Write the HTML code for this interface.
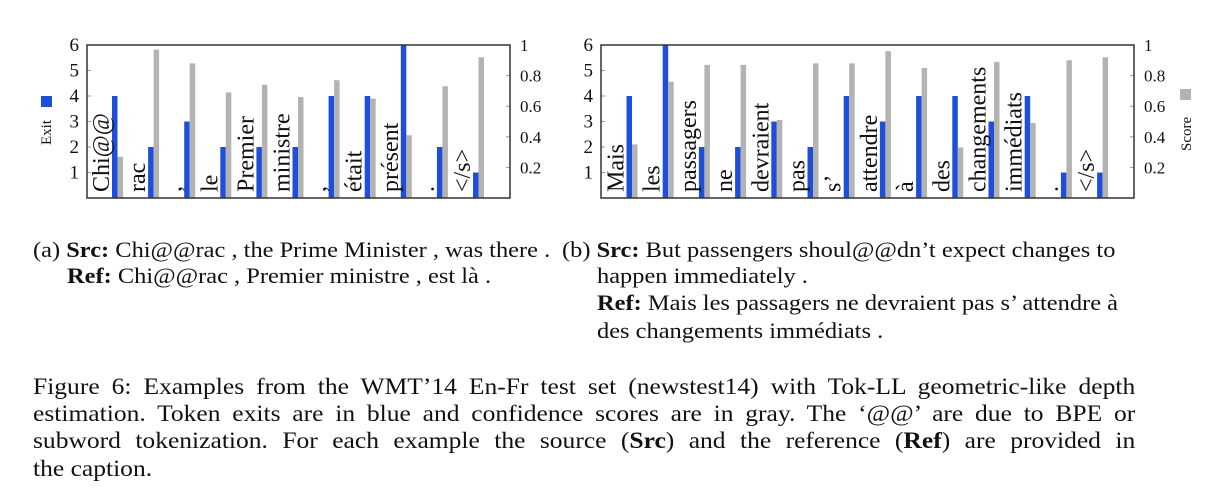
<!DOCTYPE html>
<html><head><meta charset="utf-8">
<style>
html,body{margin:0;padding:0;background:#fff;}
body{width:1205px;height:500px;overflow:hidden;position:relative;font-family:"Liberation Serif",serif;color:#111;}
svg{position:absolute;left:0;top:0;}
.cap{position:absolute;font-size:22px;white-space:nowrap;line-height:1;transform:scaleX(1.11);transform-origin:0 0;}
.fig{position:absolute;left:33px;width:993px;font-size:23px;line-height:1;text-align:justify;text-align-last:justify;white-space:nowrap;transform:scaleX(1.11);transform-origin:0 0;}
</style></head>
<body>
<svg id="chart" width="1205" height="500"></svg>

<div class="cap" style="left:33px;top:239px">(a) <b>Src:</b> Chi@@rac , the Prime Minister , was there .</div>
<div class="cap" style="left:67px;top:265px"><b>Ref:</b> Chi@@rac , Premier ministre , est là .</div>
<div class="cap" style="left:562px;top:239px">(b) <b>Src:</b> But passengers shoul@@dn’t expect changes to</div>
<div class="cap" style="left:597px;top:265px">happen immediately .</div>
<div class="cap" style="left:597px;top:292px"><b>Ref:</b> Mais les passagers ne devraient pas s’ attendre à</div>
<div class="cap" style="left:597px;top:320px">des changements immédiats .</div>

<div class="fig" style="top:375px">Figure 6: Examples from the WMT’14 En-Fr test set (newstest14) with Tok-LL geometric-like depth</div>
<div class="fig" style="top:402px">estimation. Token exits are in blue and confidence scores are in gray. The ‘@@’ are due to BPE or</div>
<div class="fig" style="top:429px">subword tokenization. For each example the source (<b>Src</b>) and the reference (<b>Ref</b>) are provided in</div>
<div class="fig" style="top:457px;text-align-last:left">the caption.</div>

<script>
const catsA = ["Chi@@","rac",",","le","Premier","ministre",",","était","présent",".","</s>"];
const exitA = [4,2,3,2,2,2,4,4,6,2,1];
const scoreA = [0.27,0.97,0.88,0.69,0.74,0.66,0.77,0.65,0.41,0.73,0.92];
const catsB = ["Mais","les","passagers","ne","devraient","pas","s’","attendre","à","des","changements","immédiats",".","</s>"];
const exitB = [4,6,2,2,3,2,4,3,4,4,3,4,1,1];
const scoreB = [0.35,0.76,0.87,0.87,0.51,0.88,0.88,0.96,0.85,0.33,0.89,0.49,0.90,0.92];
const exitTicks = [1,2,3,4,5,6];
const scoreTicks = [0.2,0.4,0.6,0.8,1];
const scoreTickLabels = ["0.2","0.4","0.6","0.8","1"];

const NS="http://www.w3.org/2000/svg";
const svg=document.getElementById('chart');
function mk(tag,attrs,parent){const e=document.createElementNS(NS,tag);for(const k in attrs)e.setAttribute(k,attrs[k]);(parent||svg).appendChild(e);return e;}
const TOP=45,BOT=198;
function yExit(v){return BOT-(BOT-TOP)*v/6;}
function yScore(v){return BOT-(BOT-TOP)*v/1;}

function drawPanel(name,x0,x1,firstBlue,pitch,cats,exits,scores){
  const g=mk('g',{});
  
  
  exitTicks.forEach(t=>{
    const y=yExit(t);
    mk('line',{x1:x0,x2:x0+4,y1:y,y2:y,stroke:'#999','stroke-width':1},g);
    const tx=mk('text',{x:x0-8,y:y+6,'text-anchor':'end','font-size':19,'font-family':'Liberation Serif, serif',fill:'#111'},g);
    
    
    tx.textContent=t;
  });
  scoreTicks.forEach((t,i)=>{
    const y=yScore(t);
    mk('line',{x1:x1-4,x2:x1,y1:y,y2:y,stroke:'#999','stroke-width':1},g);
    const tx=mk('text',{x:x1+10,y:y+6,'font-size':17,'font-family':'Liberation Serif, serif',fill:'#111'},g);
    
    
    tx.textContent=scoreTickLabels[i];
  });
  cats.forEach((c,i)=>{
    const bx=firstBlue+pitch*i;
    const b=mk('rect',{x:bx,y:yExit(exits[i]),width:5.5,height:BOT-yExit(exits[i]),fill:'#1f4fd8'},g);
    
    
    const s=mk('rect',{x:bx+5.5,y:yScore(scores[i]),width:5.5,height:BOT-yScore(scores[i]),fill:'#b3b3b3'},g);
    
    
    const lx=bx-3, ly=BOT-6;
    const t=mk('text',{x:lx,y:ly,transform:`rotate(-90 ${lx} ${ly})`,'font-size':24,'font-family':'Liberation Serif, serif',fill:'#111'},g);
    
    
    t.textContent=c;
  });
  const box=mk('rect',{x:x0,y:TOP,width:x1-x0,height:BOT-TOP,fill:'none',stroke:'#333','stroke-width':1.5},g);
  
  
}
drawPanel('panel-a',87,510,112,36.1,catsA,exitA,scoreA);
drawPanel('panel-b',601,1134,626.5,36.2,catsB,exitB,scoreB);

const lb=mk('rect',{x:41,y:96,width:11,height:11,fill:'#1f4fd8'});


const le=mk('text',{x:51,y:145,transform:'rotate(-90 51 145)','font-size':15,'font-family':'Liberation Serif, serif',fill:'#111'});


le.textContent='Exit';
const rb=mk('rect',{x:1180,y:89,width:11,height:11,fill:'#b3b3b3'});


const re=mk('text',{x:1191,y:151,transform:'rotate(-90 1191 151)','font-size':15,'font-family':'Liberation Serif, serif',fill:'#111'});


re.textContent='Score';
</script>
</body></html>
